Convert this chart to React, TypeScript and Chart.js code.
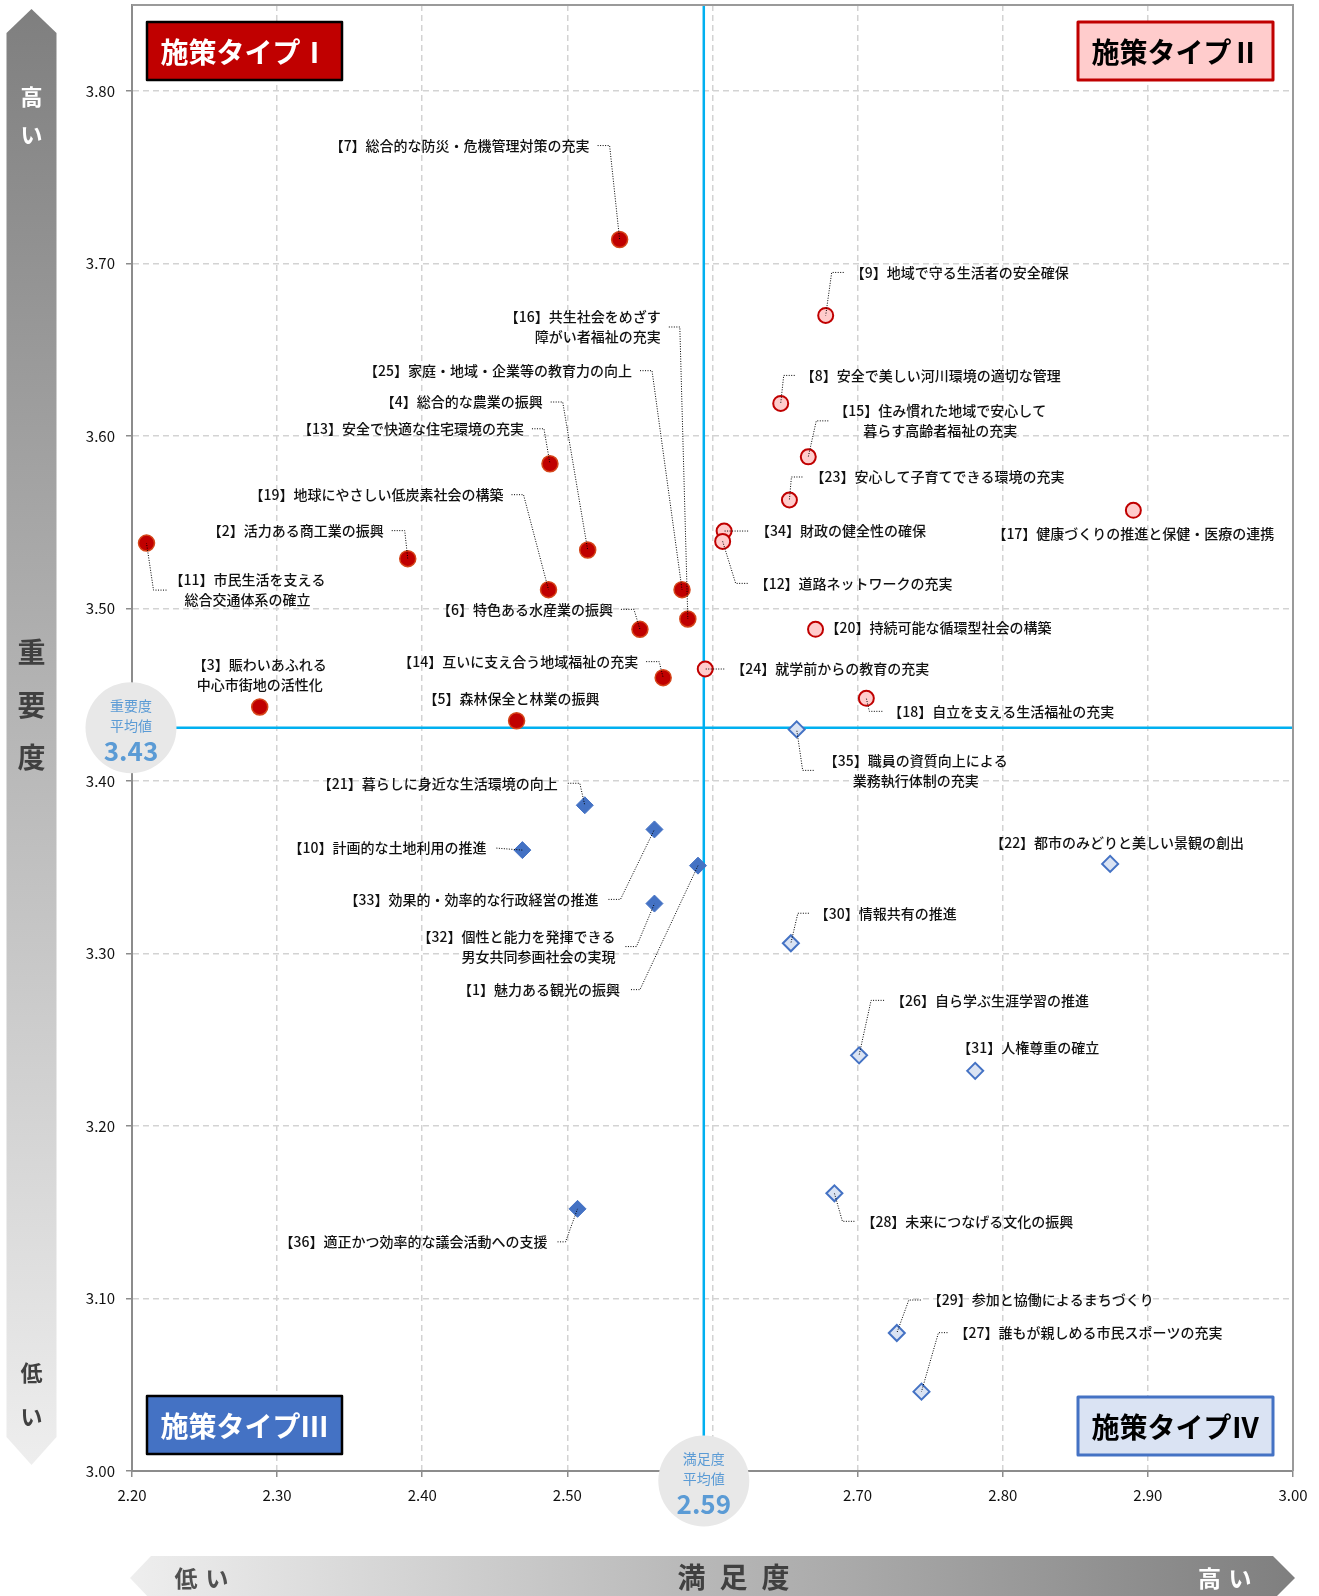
import React, { useEffect, useRef } from 'react';
import { Chart, registerables } from 'chart.js';

Chart.register(...registerables);

const W = 1319;
const H = 1596;
const FONT = "'Noto Sans CJK JP', 'Noto Sans', sans-serif";

// ---- axes ----
const X_MIN = 2.2;
const X_MAX = 3.0;
const Y_MIN = 3.0;
const Y_MAX = 3.85;
const xTickValues = [2.2, 2.3, 2.4, 2.5, 2.6, 2.7, 2.8, 2.9, 3.0];
const yTickValues = [3.0, 3.1, 3.2, 3.3, 3.4, 3.5, 3.6, 3.7, 3.8];

// ---- averages ----
const satisfactionMean = 2.594;
const importanceMean = 3.431;
const satisfactionMeanLabel = '2.59';
const importanceMeanLabel = '3.43';

// ---- type I (重要度高・満足度低) ----
const typeIIds = [7, 13, 4, 2, 19, 25, 16, 6, 14, 3, 5, 11];
const typeISatisfaction = [2.536, 2.488, 2.514, 2.390, 2.487, 2.579, 2.583, 2.550, 2.566, 2.288, 2.465, 2.210];
const typeIImportance = [3.714, 3.584, 3.534, 3.529, 3.511, 3.511, 3.494, 3.488, 3.460, 3.443, 3.435, 3.538];

// ---- type II (重要度高・満足度高) ----
const typeIIIds = [9, 8, 15, 23, 17, 34, 12, 20, 24, 18];
const typeIISatisfaction = [2.678, 2.647, 2.666, 2.653, 2.890, 2.608, 2.607, 2.671, 2.595, 2.706];
const typeIIImportance = [3.670, 3.619, 3.588, 3.563, 3.557, 3.545, 3.539, 3.488, 3.465, 3.448];

// ---- type III (重要度低・満足度低) ----
const typeIIIIds = [21, 10, 33, 1, 32, 36];
const typeIIISatisfaction = [2.512, 2.469, 2.560, 2.590, 2.560, 2.507];
const typeIIIImportance = [3.386, 3.360, 3.372, 3.351, 3.329, 3.152];

// ---- type IV (重要度低・満足度高) ----
const typeIVIds = [35, 22, 30, 26, 31, 28, 29, 27];
const typeIVSatisfaction = [2.658, 2.874, 2.654, 2.701, 2.781, 2.684, 2.727, 2.744];
const typeIVImportance = [3.430, 3.352, 3.306, 3.241, 3.232, 3.161, 3.080, 3.046];

const policyNames: Record<number, string> = {
  1: '魅力ある観光の振興',
  2: '活力ある商工業の振興',
  3: '賑わいあふれる\n中心市街地の活性化',
  4: '総合的な農業の振興',
  5: '森林保全と林業の振興',
  6: '特色ある水産業の振興',
  7: '総合的な防災・危機管理対策の充実',
  8: '安全で美しい河川環境の適切な管理',
  9: '地域で守る生活者の安全確保',
  10: '計画的な土地利用の推進',
  11: '市民生活を支える\n総合交通体系の確立',
  12: '道路ネットワークの充実',
  13: '安全で快適な住宅環境の充実',
  14: '互いに支え合う地域福祉の充実',
  15: '住み慣れた地域で安心して\n暮らす高齢者福祉の充実',
  16: '共生社会をめざす\n障がい者福祉の充実',
  17: '健康づくりの推進と保健・医療の連携',
  18: '自立を支える生活福祉の充実',
  19: '地球にやさしい低炭素社会の構築',
  20: '持続可能な循環型社会の構築',
  21: '暮らしに身近な生活環境の向上',
  22: '都市のみどりと美しい景観の創出',
  23: '安心して子育てできる環境の充実',
  24: '就学前からの教育の充実',
  25: '家庭・地域・企業等の教育力の向上',
  26: '自ら学ぶ生涯学習の推進',
  27: '誰もが親しめる市民スポーツの充実',
  28: '未来につなげる文化の振興',
  29: '参加と協働によるまちづくり',
  30: '情報共有の推進',
  31: '人権尊重の確立',
  32: '個性と能力を発揮できる\n男女共同参画社会の実現',
  33: '効果的・効率的な行政経営の推進',
  34: '財政の健全性の確保',
  35: '職員の資質向上による\n業務執行体制の充実',
  36: '適正かつ効率的な議会活動への支援',
};

// label layout (pixel offsets from the point): [dx, dy, align, leaderStartDx, leaderElbowDx]
type Align = 'l' | 'r' | 'c';
const labelPlacement: Record<number, [number, number, Align, number | null, number | null]> = {
  7: [-30, -94, 'r', -22, -10],
  13: [-26, -35, 'r', -18, -6],
  4: [-45, -148, 'r', -37, -25],
  2: [-24, -28, 'r', -16, -3],
  19: [-45, -95, 'r', -37, -25],
  25: [-50, -219, 'r', -42, -30],
  16: [-27, -292, 'r', -19, -8],
  6: [-27, -20, 'r', -19, -6],
  14: [-25, -16, 'r', -17, -4],
  3: [0, -32, 'c', null, null],
  5: [-5, -22, 'c', null, null],
  11: [101, 47, 'c', 20, 7],
  9: [25, -43, 'l', 18, 6],
  8: [20, -28, 'l', 14, 3],
  15: [132, -36, 'c', 20, 8],
  23: [21, -23, 'l', 13, 2],
  17: [0, 23, 'c', null, null],
  34: [32, 0, 'l', 24, 0],
  12: [32, 42, 'l', 25, 13],
  20: [10, -2, 'l', null, null],
  24: [26, 0, 'l', 19, 0],
  18: [22, 13, 'l', 16, 3],
  21: [-27, -22, 'r', -17, -5],
  10: [-36, -2, 'r', -26, -26],
  33: [-56, 70, 'r', -46, -34],
  32: [-39, 43, 'r', -29, -18],
  1: [-78, 124, 'r', -67, -58],
  36: [-30, 33, 'r', -20, -12],
  35: [119, 41, 'c', 17, 6],
  22: [7, -21, 'c', null, null],
  30: [24, -30, 'l', 18, 7],
  26: [32, -55, 'l', 25, 12],
  31: [-18, -23, 'l', null, null],
  28: [27, 28, 'l', 20, 8],
  29: [31, -33, 'l', 24, 12],
  27: [33, -59, 'l', 26, 17],
};

const toPoints = (ids: number[], xs: number[], ys: number[]) =>
  ids.map((id, i) => ({ x: xs[i], y: ys[i], id }));

function drawLabelsAndLeaders(chart: any) {
  const ctx: CanvasRenderingContext2D = chart.ctx;
  chart.data.datasets.forEach((ds: any, di: number) => {
    if (!ds.isPolicy) return;
    const meta = chart.getDatasetMeta(di);
    meta.data.forEach((el: any, j: number) => {
      const id = ds.data[j].id;
      const pl = labelPlacement[id];
      if (!pl) return;
      const [dx, dy, align, sx, ex] = pl;
      const px = el.x;
      const py = el.y;
      const tx = px + dx;
      const ty = py + dy;
      if (sx !== null && ex !== null) {
        ctx.save();
        ctx.strokeStyle = '#000';
        ctx.lineWidth = 1;
        ctx.setLineDash([1, 1.5]);
        ctx.beginPath();
        ctx.moveTo(px + sx, ty);
        ctx.lineTo(px + ex, ty);
        ctx.lineTo(px, py);
        ctx.stroke();
        ctx.restore();
      }
      const lines = policyNames[id].split('\n');
      lines[0] = `【${id}】` + lines[0];
      ctx.save();
      ctx.font = `500 14px ${FONT}`;
      ctx.fillStyle = '#111';
      ctx.textBaseline = 'middle';
      ctx.textAlign = align === 'l' ? 'left' : align === 'r' ? 'right' : 'center';
      lines.forEach((ln, k) => {
        ctx.fillText(ln, tx, ty + (k - (lines.length - 1) / 2) * 20);
      });
      ctx.restore();
    });
  });
}

function drawBox(ctx: CanvasRenderingContext2D, x: number, y: number, w: number, h: number,
  fill: string, stroke: string, lw: number, color: string, text: string) {
  ctx.save();
  ctx.fillStyle = fill;
  ctx.strokeStyle = stroke;
  ctx.lineWidth = lw;
  ctx.lineJoin = 'round';
  ctx.fillRect(x, y, w, h);
  ctx.strokeRect(x, y, w, h);
  ctx.fillStyle = color;
  ctx.font = `bold 28px ${FONT}`;
  ctx.textAlign = 'center';
  ctx.textBaseline = 'middle';
  ctx.fillText(text, x + w / 2, y + h / 2 + 1);
  ctx.restore();
}

function drawAvgCircle(ctx: CanvasRenderingContext2D, cx: number, cy: number, l1: string, l2: string, val: string) {
  ctx.save();
  ctx.fillStyle = '#E8E8E8';
  ctx.beginPath();
  ctx.arc(cx, cy, 45.5, 0, Math.PI * 2);
  ctx.fill();
  ctx.fillStyle = '#5B9BD5';
  ctx.textAlign = 'center';
  ctx.textBaseline = 'middle';
  ctx.font = `14px ${FONT}`;
  ctx.fillText(l1, cx, cy - 22);
  ctx.fillText(l2, cx, cy - 2);
  ctx.font = `bold 26px ${FONT}`;
  ctx.fillText(val, cx, cy + 23);
  ctx.restore();
}

function drawArrows(ctx: CanvasRenderingContext2D) {
  ctx.save();
  // vertical arrow (重要度)
  let g = ctx.createLinearGradient(0, 9, 0, 1465);
  g.addColorStop(0, '#7F7F7F');
  g.addColorStop(1, '#EEEEEE');
  ctx.fillStyle = g;
  ctx.beginPath();
  ctx.moveTo(6.5, 33);
  ctx.lineTo(31.5, 9);
  ctx.lineTo(56.5, 33);
  ctx.lineTo(56.5, 1437);
  ctx.lineTo(31.5, 1465);
  ctx.lineTo(6.5, 1437);
  ctx.closePath();
  ctx.fill();

  // horizontal arrow (満足度)
  g = ctx.createLinearGradient(130, 0, 1295, 0);
  g.addColorStop(0, '#EEEEEE');
  g.addColorStop(1, '#7F7F7F');
  ctx.fillStyle = g;
  ctx.beginPath();
  ctx.moveTo(130, 1578);
  ctx.lineTo(151, 1556);
  ctx.lineTo(1273, 1556);
  ctx.lineTo(1295, 1578);
  ctx.lineTo(1273, 1600);
  ctx.lineTo(151, 1600);
  ctx.closePath();
  ctx.fill();

  ctx.textAlign = 'center';
  ctx.textBaseline = 'middle';
  const put = (t: string, x: number, y: number, size: number, color: string) => {
    ctx.font = `bold ${size}px ${FONT}`;
    ctx.fillStyle = color;
    ctx.fillText(t, x, y);
  };
  put('高', 31.5, 97, 22, '#FFFFFF');
  put('い', 31.5, 135, 22, '#FFFFFF');
  put('重', 31.5, 652, 28, '#404040');
  put('要', 31.5, 705, 28, '#404040');
  put('度', 31.5, 757, 28, '#404040');
  put('低', 31.5, 1373, 22, '#404040');
  put('い', 31.5, 1417, 22, '#404040');

  put('低', 186, 1578, 23, '#505050');
  put('い', 217, 1578, 23, '#505050');
  put('満', 691.5, 1577, 28, '#404040');
  put('足', 733.5, 1577, 28, '#404040');
  put('度', 775.5, 1577, 28, '#404040');
  put('高', 1209.5, 1578, 23, '#FFFFFF');
  put('い', 1240, 1578, 23, '#FFFFFF');
  ctx.restore();
}

const decorPlugin = {
  id: 'decor',
  afterDraw(chart: any) {
    const ctx: CanvasRenderingContext2D = chart.ctx;
    const ca = chart.chartArea;
    const xs = chart.scales.x;
    const ys = chart.scales.y;

    // top & right frame
    ctx.save();
    ctx.strokeStyle = '#9A9A9A';
    ctx.lineWidth = 2;
    ctx.beginPath();
    ctx.moveTo(ca.left, ca.top);
    ctx.lineTo(ca.right, ca.top);
    ctx.lineTo(ca.right, ca.bottom);
    ctx.stroke();
    ctx.restore();

    drawLabelsAndLeaders(chart);

    // quadrant boxes
    const bw = 195;
    const bh = 58;
    drawBox(ctx, ca.left + 15, ca.top + 17, bw, bh, '#C00000', '#000000', 2.5, '#FFFFFF', '施策タイプⅠ');
    drawBox(ctx, ca.right - 20 - bw, ca.top + 17, bw, bh, '#FFCCCC', '#C00000', 3, '#000000', '施策タイプⅡ');
    drawBox(ctx, ca.left + 15, ca.bottom - 17 - bh, bw, bh, '#4472C4', '#000000', 2.5, '#FFFFFF', '施策タイプⅢ');
    drawBox(ctx, ca.right - 20 - bw, ca.bottom - 16 - bh, bw, bh, '#DAE3F3', '#4472C4', 3, '#000000', '施策タイプⅣ');

    // average circles
    drawAvgCircle(ctx, ca.left - 1, ys.getPixelForValue(importanceMean), '重要度', '平均値', importanceMeanLabel);
    drawAvgCircle(ctx, xs.getPixelForValue(satisfactionMean), ca.bottom + 10, '満足度', '平均値', satisfactionMeanLabel);

    drawArrows(ctx);
  },
};

export default function App() {
  const ref = useRef<HTMLCanvasElement>(null);

  useEffect(() => {
    const canvas = ref.current;
    if (!canvas) return;
    const tickFont = { family: FONT, size: 15 };
    const chart = new Chart(canvas, {
      type: 'scatter',
      data: {
        datasets: [
          {
            label: '施策タイプⅠ',
            isPolicy: true,
            data: toPoints(typeIIds, typeISatisfaction, typeIImportance),
            pointStyle: 'circle',
            pointRadius: 8,
            backgroundColor: '#C00000',
            borderColor: '#D5461A',
            borderWidth: 1.5,
            order: 1,
          } as any,
          {
            label: '施策タイプⅡ',
            isPolicy: true,
            data: toPoints(typeIIIds, typeIISatisfaction, typeIIImportance),
            pointStyle: 'circle',
            pointRadius: 7.5,
            backgroundColor: '#FFCCCC',
            borderColor: '#C00000',
            borderWidth: 2,
            order: 1,
          } as any,
          {
            label: '施策タイプⅢ',
            isPolicy: true,
            data: toPoints(typeIIIIds, typeIIISatisfaction, typeIIIImportance),
            pointStyle: 'rectRot',
            pointRadius: 8.5,
            backgroundColor: '#4472C4',
            borderColor: '#4472C4',
            borderWidth: 1,
            order: 1,
          } as any,
          {
            label: '施策タイプⅣ',
            isPolicy: true,
            data: toPoints(typeIVIds, typeIVSatisfaction, typeIVImportance),
            pointStyle: 'rectRot',
            pointRadius: 8,
            backgroundColor: '#DAE3F3',
            borderColor: '#4472C4',
            borderWidth: 2,
            order: 1,
          } as any,
          {
            label: '満足度平均',
            data: [{ x: satisfactionMean, y: Y_MIN }, { x: satisfactionMean, y: Y_MAX }],
            showLine: true,
            pointRadius: 0,
            borderColor: '#00B0F0',
            borderWidth: 2.5,
            order: 10,
          } as any,
          {
            label: '重要度平均',
            data: [{ x: X_MIN, y: importanceMean }, { x: X_MAX, y: importanceMean }],
            showLine: true,
            pointRadius: 0,
            borderColor: '#00B0F0',
            borderWidth: 2.5,
            order: 10,
          } as any,
        ],
      },
      options: {
        responsive: false,
        animation: false,
        devicePixelRatio: 1,
        events: [],
        layout: { autoPadding: false, padding: { left: 0, right: 26, top: 5, bottom: 0 } },
        plugins: {
          legend: { display: false },
          tooltip: { enabled: false },
          title: { display: false },
        },
        scales: {
          x: {
            type: 'linear',
            min: X_MIN,
            max: X_MAX,
            afterBuildTicks: (s: any) => { s.ticks = xTickValues.map((v) => ({ value: v })); },
            afterFit: (s: any) => { s.height = 125; s.paddingLeft = 0; s.paddingRight = 0; },
            ticks: {
              font: tickFont,
              color: '#111',
              padding: 9,
              maxRotation: 0,
              autoSkip: false,
              callback: (v: any) => Number(v).toFixed(2),
            },
            grid: {
              color: '#D3D3D3',
              lineWidth: 1.5,
              tickLength: 6,
              tickColor: '#8C8C8C',
              tickWidth: 1.5,
            },
            border: { color: '#8C8C8C', width: 2, dash: [6, 4] },
          },
          y: {
            type: 'linear',
            min: Y_MIN,
            max: Y_MAX,
            afterBuildTicks: (s: any) => { s.ticks = yTickValues.map((v) => ({ value: v })); },
            afterFit: (s: any) => { s.width = 132; s.paddingTop = 0; s.paddingBottom = 0; },
            ticks: {
              font: tickFont,
              color: '#111',
              padding: 11,
              autoSkip: false,
              callback: (v: any) => Number(v).toFixed(2),
            },
            grid: {
              color: '#D3D3D3',
              lineWidth: 1.5,
              tickLength: 6,
              tickColor: '#8C8C8C',
              tickWidth: 1.5,
            },
            border: { color: '#8C8C8C', width: 2, dash: [6, 4] },
          },
        },
      } as any,
      plugins: [decorPlugin],
    });
    return () => chart.destroy();
  }, []);

  return (
    <div style={{ position: 'absolute', left: 0, top: 0, width: W, height: H, background: '#FFFFFF', overflow: 'hidden' }}>
      <canvas ref={ref} width={W} height={H} style={{ display: 'block', width: W, height: H }} />
    </div>
  );
}
